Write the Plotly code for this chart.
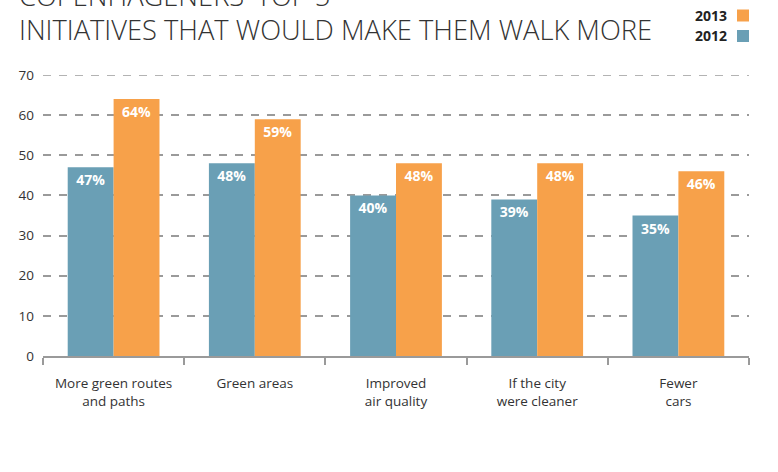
import plotly.graph_objects as go

# Survey results: share of respondents per initiative
categories = [
    "More green routes<br>and paths",
    "Green areas",
    "Improved<br>air quality",
    "If the city<br>were cleaner",
    "Fewer<br>cars",
]
values_2012 = [47, 48, 40, 39, 35]
values_2013 = [64, 59, 48, 48, 46]
y_ticks = [0, 10, 20, 30, 40, 50, 60, 70]

BLUE = "#6a9fb5"
ORANGE = "#f7a14a"
TEXT = "#333333"
GRID = "#9a9a9a"
FONT = "Open Sans"

W, H = 778, 472
M_L, M_R, M_T, M_B = 43, 29, 75, 116
plot_h = H - M_T - M_B


def py(pixel_y):
    """Convert a page pixel row to paper y."""
    return (H - M_B - pixel_y) / plot_h


def px(pixel_x):
    """Convert a page pixel column to paper x."""
    return (pixel_x - M_L) / (W - M_L - M_R)


label_font = dict(family=FONT, size=14, color="white", weight="bold")

fig = go.Figure()
fig.add_trace(go.Bar(
    x=categories, y=values_2012, name="2012", marker_color=BLUE,
    marker_line_width=0,
    text=[f"{v}%" for v in values_2012], textposition="inside",
    insidetextanchor="end", textfont=label_font, constraintext="none",
))
fig.add_trace(go.Bar(
    x=categories, y=values_2013, name="2013", marker_color=ORANGE,
    marker_line_width=0,
    text=[f"{v}%" for v in values_2013], textposition="inside",
    insidetextanchor="end", textfont=label_font, constraintext="none",
))

fig.update_layout(
    width=W, height=H,
    margin=dict(l=M_L, r=M_R, t=M_T, b=M_B),
    paper_bgcolor="white", plot_bgcolor="white",
    barmode="group", bargap=0.35, bargroupgap=0,
    showlegend=False,
    font=dict(family=FONT, color=TEXT, size=13),
    xaxis=dict(
        showline=True, linecolor=GRID, linewidth=1.5,
        ticks="outside", tickson="boundaries", ticklen=7,
        tickcolor=GRID, tickwidth=1.5,
        tickfont=dict(size=13.5, color=TEXT),
        ticklabelstandoff=14,
        showgrid=False,
    ),
    yaxis=dict(
        range=[0, max(y_ticks)], tickvals=y_ticks,
        showgrid=True, gridcolor=GRID, griddash="8px,8px", gridwidth=1.5,
        zeroline=False, showline=False, ticks="",
        ticklabelstandoff=8,
        tickfont=dict(size=13.5, color=TEXT),
    ),
)

# Top gridline sits on the plot edge, so draw it explicitly
fig.add_shape(
    type="line", xref="paper", yref="y", x0=0, x1=1,
    y0=max(y_ticks), y1=max(y_ticks), layer="below",
    line=dict(color=GRID, width=1.5, dash="8px,8px"),
)

# Two-line headline
for line, cy in [("COPENHAGENERS' TOP 5", -4), ("INITIATIVES THAT WOULD MAKE THEM WALK MORE", 30)]:
    fig.add_annotation(
        text=line, xref="paper", yref="paper",
        x=px(17), y=py(cy), xanchor="left", yanchor="middle", showarrow=False,
        font=dict(family=FONT, size=27.3, color=TEXT, weight=300),
    )

# Year key with coloured squares
for label, color, cy in [("2013", ORANGE, 15.5), ("2012", BLUE, 36)]:
    fig.add_annotation(
        text=f"<b>{label}</b>", xref="paper", yref="paper",
        x=px(729), y=py(cy), xanchor="right", yanchor="middle", showarrow=False,
        font=dict(family=FONT, size=14, color="#222222"),
    )
    fig.add_shape(
        type="rect", xref="paper", yref="paper",
        x0=px(737), x1=px(749), y0=py(cy - 6), y1=py(cy + 6),
        fillcolor=color, line_width=0,
    )

fig.write_html("out.html")
